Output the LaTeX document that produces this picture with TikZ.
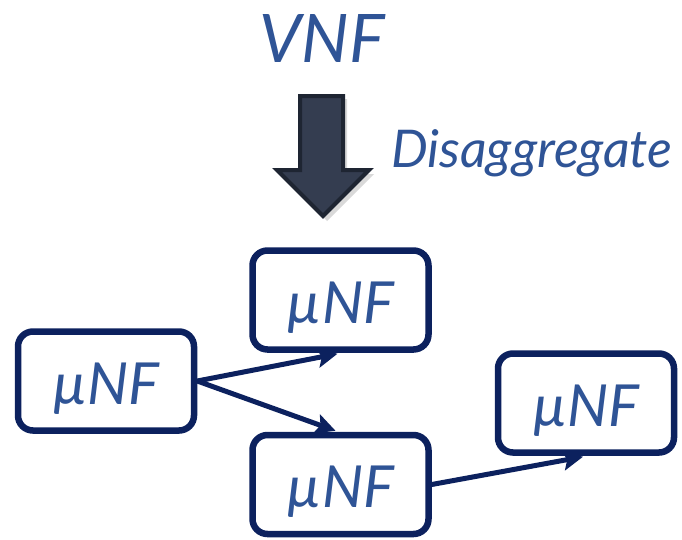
\documentclass[tikz,border=0pt]{standalone}
\usepackage{fontspec}
\setmainfont{Lato}
\usetikzlibrary{arrows.meta,calc}
\definecolor{txtblue}{RGB}{47,84,150}
\definecolor{boxnavy}{RGB}{12,33,94}
\definecolor{arrfill}{RGB}{52,61,80}
\definecolor{arredge}{RGB}{30,37,50}
\tikzset{
  nfbox/.style={draw=boxnavy, line width=6.5pt, rounded corners=15pt, fill=white,
    minimum width=176pt, minimum height=99pt, inner sep=0pt,
    text=txtblue, font=\fontsize{58}{60}\selectfont\itshape,
    text height=46pt, text depth=0pt},
  link/.style={draw=boxnavy, line width=5pt, -{Stealth[length=20pt,width=20pt,inset=4pt]}},
  bigtxt/.style={text=txtblue, inner sep=0pt}
}
\begin{document}
\begin{tikzpicture}[x=1pt,y=1pt]
\useasboundingbox (0,0) rectangle (682,-539);
% title texts
\node[bigtxt, anchor=base, font=\fontsize{67}{70}\selectfont\itshape] (vnf) at (322,-62) {VNF};
\node[bigtxt, anchor=base west, font=\fontsize{52}{55}\selectfont\itshape] (dis) at (391,-167) {Disaggregate};
% big down arrow (shadow + body)
\fill[black, opacity=0.15] (304,-99) -- (347,-99) -- (347,-174) -- (374,-174) -- (327,-221) -- (281,-174) -- (304,-174) -- cycle;
\draw[arredge, fill=arrfill, line width=4pt, line join=miter] (300,-96) -- (343,-96) -- (343,-170) -- (369,-170) -- (323,-216) -- (277,-170) -- (300,-170) -- cycle;
% boxes
\node[nfbox] (A) at (106,-381) {µNF};
\node[nfbox] (B) at (340.5,-300) {µNF};
\node[nfbox] (C) at (340.5,-484.5) {µNF};
\node[nfbox] (D) at (586,-403) {µNF};
% connectors
\draw[link] (A.east) -- ($(B.south)+(-3,-1)$);
\draw[link] (A.east) -- ($(C.north)+(-5,1)$);
\draw[link] (C.east) -- ($(D.south)+(-3,-1)$);
\end{tikzpicture}
\end{document}
